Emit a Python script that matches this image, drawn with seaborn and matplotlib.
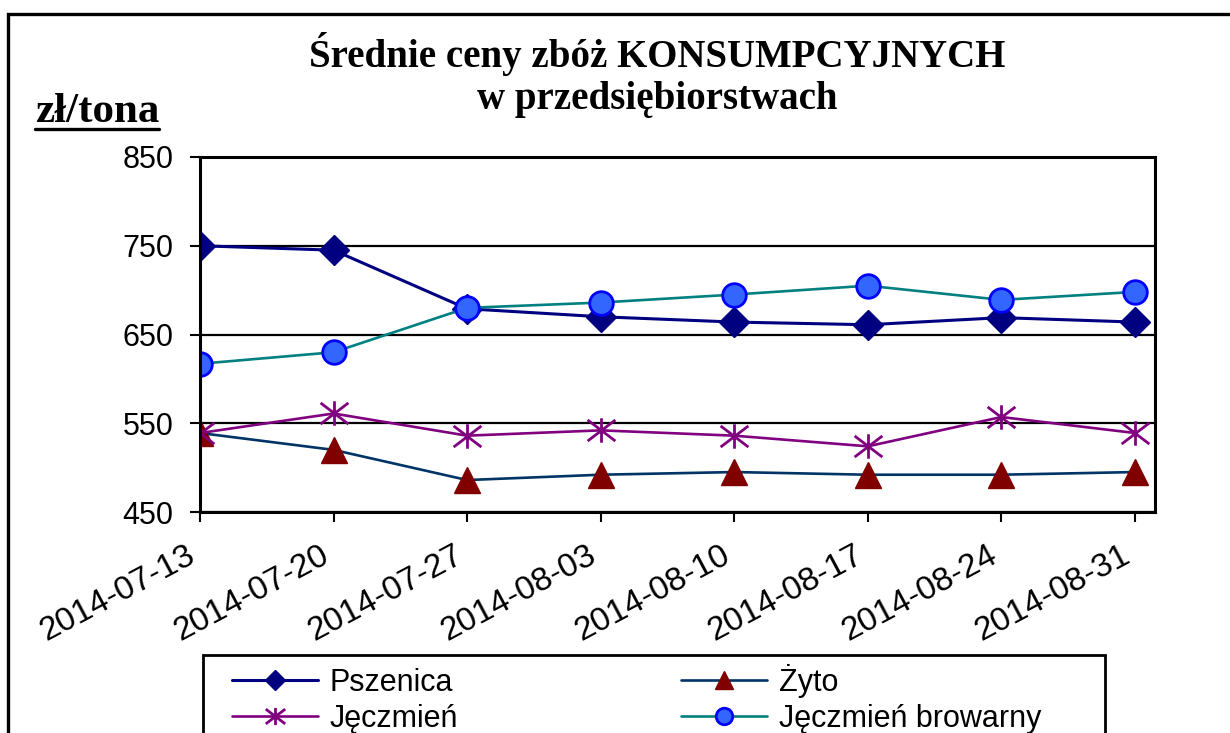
import numpy as np
import pandas as pd
import matplotlib
matplotlib.use("Agg")
import matplotlib.pyplot as plt
import matplotlib.dates as mdates
import matplotlib.transforms as mtransforms
from matplotlib.path import Path
from matplotlib.patches import Rectangle
from matplotlib.lines import Line2D
import seaborn as sns

# ---------------- data ----------------
dates = ["2014-07-13", "2014-07-20", "2014-07-27", "2014-08-03",
         "2014-08-10", "2014-08-17", "2014-08-24", "2014-08-31"]
pszenica = [750, 745, 679, 670, 664, 661, 669, 664]
zyto = [539, 520, 486, 492, 495, 492, 492, 495]
jeczmien = [539, 561, 536, 542, 536, 524, 557, 539]
jeczmien_browarny = [617, 630, 680, 686, 695, 705, 689, 698]
series_names = ["Pszenica", "Żyto", "Jęczmień", "Jęczmień browarny"]
y_ticks = [450, 550, 650, 750, 850]
title_text = "Średnie ceny zbóż KONSUMPCYJNYCH\nw przedsiębiorstwach"
unit_text = "zł/tona"

# ---------------- style ----------------
sns.set_style("ticks")
plt.rcParams["font.family"] = ["Liberation Sans", "DejaVu Sans"]
for k in ["text.color", "axes.labelcolor", "xtick.color", "ytick.color", "axes.edgecolor"]:
    plt.rcParams[k] = "black"

W, H = 1230, 733
fig = plt.figure(figsize=(W / 100, H / 100), dpi=100)
fig.patch.set_facecolor("white")
ax = fig.add_axes([200 / W, 1 - 512 / H, 955 / W, 355 / H])

# Excel-like asterisk marker (vertical arm + X)
star = Path(
    [(0, -0.88), (0, 0.88), (-1, -0.76), (1, 0.76), (-1, 0.76), (1, -0.76)],
    [Path.MOVETO, Path.LINETO, Path.MOVETO, Path.LINETO, Path.MOVETO, Path.LINETO],
)

x = pd.to_datetime(dates)
all_values = [pszenica, zyto, jeczmien, jeczmien_browarny]
styles = [
    dict(color="#000080", marker="D", markersize=15, markerfacecolor="#000080",
         markeredgecolor="#000080", markeredgewidth=1, linewidth=2.2),
    dict(color="#003366", marker="^", markersize=19, markerfacecolor="#800000",
         markeredgecolor="#800000", markeredgewidth=1, linewidth=1.9),
    dict(color="#800080", marker=star, markersize=20, markerfacecolor="none",
         markeredgecolor="#800080", markeredgewidth=2, linewidth=1.9),
    dict(color="#008080", marker="o", markersize=17, markerfacecolor="#3366FF",
         markeredgecolor="#0000FF", markeredgewidth=2, linewidth=1.9),
]
for name, vals, st in zip(series_names, all_values, styles):
    sns.lineplot(x=x, y=vals, ax=ax, label=name, **st)

if ax.get_legend() is not None:
    ax.get_legend().remove()

ax.set_ylim(450, 850)
ax.set_yticks(y_ticks)
ax.set_xlim(mdates.date2num(x[0]), mdates.date2num(x[-1]) + 1.05)
ax.set_xticks(x)
ax.set_xticklabels(dates, rotation=28, ha="right", va="top", rotation_mode="anchor")
ax.tick_params(axis="both", direction="out", length=7, width=1.5, colors="black", pad=12)
ax.tick_params(axis="y", labelsize=22)
ax.tick_params(axis="x", labelsize=24, pad=13)
shift = mtransforms.ScaledTranslation(-14 / 100, 0, fig.dpi_scale_trans)
for lbl in ax.get_xticklabels():
    lbl.set_transform(lbl.get_transform() + shift)
ax.set_xlabel("")
ax.set_ylabel("")
ax.set_axisbelow(True)
ax.grid(axis="y", color="black", linewidth=1.6)
ax.grid(axis="x", visible=False)
for sp in ax.spines.values():
    sp.set_visible(True)
    sp.set_color("black")
    sp.set_linewidth(2.2)

# title
fig.text(657 / W, 1 - 75 / H, title_text, ha="center", va="center", fontsize=28,
         fontweight="bold", color="black", family=["Liberation Serif", "DejaVu Serif"],
         linespacing=1.2)

# unit label with underline
ut = fig.text(35 / W, 1 - 122 / H, unit_text, ha="left", va="baseline", fontsize=31,
              fontweight="bold", color="black", family=["Liberation Serif", "DejaVu Serif"])
fig.canvas.draw()
bb = ut.get_window_extent()
uy = 1 - 129 / H
fig.add_artist(Line2D([bb.x0 / W, bb.x1 / W], [uy, uy], transform=fig.transFigure,
                      color="black", linewidth=2.4))

# outer chart border (extends past right / bottom edges)
fig.add_artist(Rectangle((8 / W, -0.1), 1.2, 1.1 - 14 / H, transform=fig.transFigure,
                         fill=False, edgecolor="black", linewidth=2.4, clip_on=False))

# legend (frame drawn separately, like Excel's wider legend box)
handles, labels = ax.get_legend_handles_labels()
order = [0, 2, 1, 3]
leg = fig.legend([handles[i] for i in order], [labels[i] for i in order], ncol=2,
                 loc="upper left", bbox_to_anchor=(232 / W, 1 - 664 / H),
                 frameon=False, fontsize=22, handlelength=2.8, handletextpad=0.4,
                 labelspacing=0.2, borderpad=0, borderaxespad=0, columnspacing=7.3,
                 markerscale=0.7)
for t in leg.get_texts():
    t.set_color("black")
fig.add_artist(Rectangle((203 / W, -0.1), 902 / W, 0.1 + 1 - 655 / H,
                         transform=fig.transFigure, fill=False, edgecolor="black",
                         linewidth=2, clip_on=False))

fig.savefig("out.png", dpi=100, facecolor="white")
